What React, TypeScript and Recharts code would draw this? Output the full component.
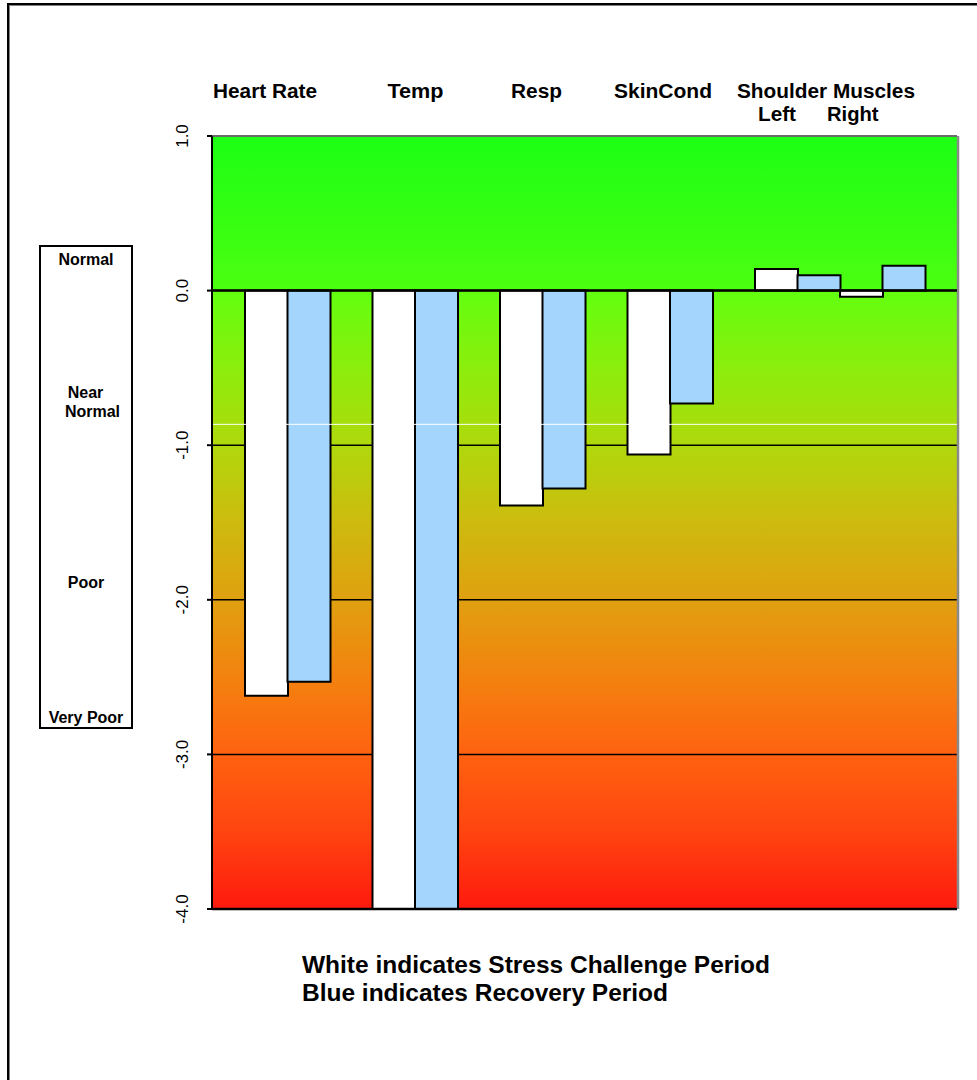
import React from 'react';
import { BarChart, Bar, Cell, XAxis, YAxis, CartesianGrid, ReferenceLine } from 'recharts';

const categories = ['Heart Rate', 'Temp', 'Resp', 'SkinCond', 'Shoulder Left', 'Shoulder Right'];
const stressValues = [-2.62, -4.0, -1.39, -1.06, 0.14, -0.04];
const recoveryValues = [-2.53, -4.0, -1.28, -0.73, 0.1, 0.16];
const spacerAfter = ['Heart Rate', 'Temp', 'Resp', 'SkinCond'];
const yTicks = [1, 0, -1, -2, -3, -4];
const headerLabels = ['Heart Rate', 'Temp', 'Resp', 'SkinCond', 'Shoulder Muscles'];
const subLabels = ['Left', 'Right'];
const scaleLabels = ['Normal', 'Near', 'Normal', 'Poor', 'Very Poor'];
const noteLines = ['White indicates Stress Challenge Period', 'Blue indicates Recovery Period'];

const STRESS_FILL = '#ffffff';
const RECOVERY_FILL = '#a4d6fd';
const FONT = '"Liberation Sans", Arial, Helvetica, sans-serif';

type Row = { slot: string; value: number | null; period: 'stress' | 'recovery' | 'gap' };

const rows: Row[] = [];
categories.forEach((c, i) => {
  rows.push({ slot: `${c}-S`, value: stressValues[i], period: 'stress' });
  rows.push({ slot: `${c}-R`, value: recoveryValues[i], period: 'recovery' });
  if (spacerAfter.includes(c)) rows.push({ slot: `${c}-gap`, value: null, period: 'gap' });
});

const YTick = (props: any) => {
  const { x, y, payload } = props;
  const px = x - 17;
  return (
    <text
      x={px}
      y={y}
      transform={`rotate(-90, ${px}, ${y})`}
      textAnchor="middle"
      fontSize={17}
      fontFamily={FONT}
      fill="#000"
    >
      {Number(payload.value).toFixed(1)}
    </text>
  );
};

const headerPos = [
  { x: 213, len: 104 },
  { x: 387.5, len: 56 },
  { x: 511, len: 51 },
  { x: 614, len: 98 },
  { x: 737, len: 178 },
];
const subPos = [
  { x: 758, len: 38 },
  { x: 827, len: 51.5 },
];
const scalePos = [
  { cx: 86, y: 265 },
  { cx: 85.5, y: 398 },
  { cx: 92.5, y: 417 },
  { cx: 86, y: 588 },
  { cx: 86, y: 723 },
];
const notePos = [
  { y: 973, len: 468 },
  { y: 1001, len: 366 },
];

const rightEdge = (p: any) => {
  const o = p && p.offset ? p.offset : { left: 0, width: 0 };
  return [o.left + o.width + 1];
};

export default function App() {
  return (
    <div
      style={{
        position: 'absolute',
        left: 0,
        top: 0,
        width: 977,
        height: 1080,
        overflow: 'hidden',
        background: '#fff',
      }}
    >
      <div
        style={{
          position: 'absolute',
          left: 7,
          top: 3,
          width: 1100,
          height: 1200,
          borderLeft: '2px solid #000',
          borderTop: '2px solid #000',
          boxShadow: 'inset 1px 1px 0 #808080',
        }}
      />
      <div style={{ position: 'absolute', left: 0, top: 0 }}>
        <BarChart
          width={977}
          height={1080}
          data={rows}
          margin={{ top: 136, right: 20, bottom: 171, left: 172 }}
          barCategoryGap={0}
          barGap={0}
        >
          <defs>
            <linearGradient id="bgGrad" x1="0" y1="0" x2="0" y2="1">
              <stop offset="0" stopColor="#1cff14" />
              <stop offset="0.2" stopColor="#4cff10" />
              <stop offset="0.2" stopColor="#62ff0f" />
              <stop offset="0.3" stopColor="#8cee0c" />
              <stop offset="0.4" stopColor="#b0d80c" />
              <stop offset="0.5" stopColor="#cdbb0e" />
              <stop offset="0.6" stopColor="#e0a010" />
              <stop offset="0.7" stopColor="#f3820f" />
              <stop offset="0.8" stopColor="#ff6210" />
              <stop offset="0.9" stopColor="#ff4410" />
              <stop offset="1" stopColor="#ff1a0e" />
            </linearGradient>
          </defs>
          <CartesianGrid vertical={false} stroke="#000" strokeWidth={1.5} fill="url(#bgGrad)" fillOpacity={1} />
          <CartesianGrid
            horizontal={false}
            stroke="#8a8a8a"
            strokeWidth={2.5}
            verticalCoordinatesGenerator={rightEdge}
          />
          <XAxis dataKey="slot" hide padding={{ left: 33, right: 32 }} />
          <YAxis
            domain={[-4, 1]}
            ticks={yTicks}
            allowDataOverflow
            width={40}
            tickSize={5}
            axisLine={{ stroke: '#000', strokeWidth: 2 }}
            tickLine={{ stroke: '#000', strokeWidth: 2 }}
            tick={<YTick />}
          />
          <Bar dataKey="value" stroke="#000" strokeWidth={2} isAnimationActive={false}>
            {rows.map((r) => (
              <Cell key={r.slot} fill={r.period === 'recovery' ? RECOVERY_FILL : STRESS_FILL} />
            ))}
          </Bar>
          <ReferenceLine y={1} stroke="#6a6a6a" strokeWidth={2} />
          <ReferenceLine y={0} stroke="#000" strokeWidth={2.5} />
          <ReferenceLine y={-4} stroke="#000" strokeWidth={2.5} />
          <ReferenceLine y={-0.865} stroke="#ffffff" strokeWidth={1} />
        </BarChart>
      </div>
      <svg
        width={977}
        height={1080}
        style={{ position: 'absolute', left: 0, top: 0, pointerEvents: 'none' }}
      >
        {headerLabels.map((t, i) => (
          <text
            key={t}
            x={headerPos[i].x}
            y={98}
            fontSize={20}
            fontWeight="bold"
            fontFamily={FONT}
            textLength={headerPos[i].len}
            lengthAdjust="spacingAndGlyphs"
          >
            {t}
          </text>
        ))}
        {subLabels.map((t, i) => (
          <text
            key={t}
            x={subPos[i].x}
            y={121}
            fontSize={20}
            fontWeight="bold"
            fontFamily={FONT}
            textLength={subPos[i].len}
            lengthAdjust="spacingAndGlyphs"
          >
            {t}
          </text>
        ))}
        <rect x={40} y={246} width={92} height={482} fill="#fff" stroke="#000" strokeWidth={2} />
        {scaleLabels.map((t, i) => (
          <text
            key={i}
            x={scalePos[i].cx}
            y={scalePos[i].y}
            textAnchor="middle"
            fontSize={16}
            fontWeight="bold"
            fontFamily={FONT}
          >
            {t}
          </text>
        ))}
        {noteLines.map((t, i) => (
          <text
            key={t}
            x={302}
            y={notePos[i].y}
            fontSize={24}
            fontWeight="bold"
            fontFamily={FONT}
            textLength={notePos[i].len}
            lengthAdjust="spacingAndGlyphs"
          >
            {t}
          </text>
        ))}
      </svg>
    </div>
  );
}
